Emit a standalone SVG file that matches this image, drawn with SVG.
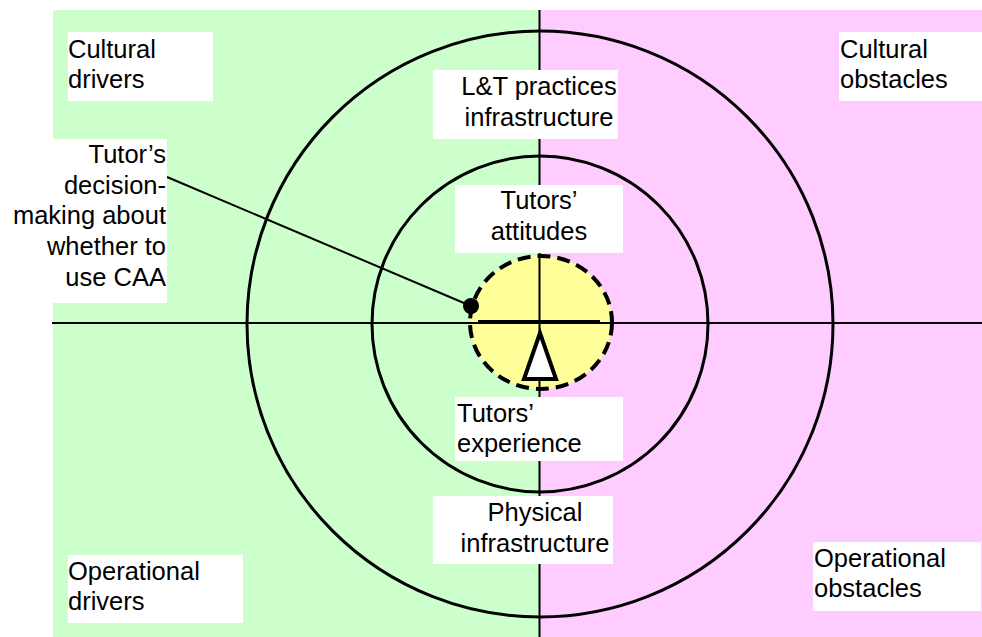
<svg xmlns="http://www.w3.org/2000/svg" width="982" height="637" viewBox="0 0 982 637">
<style>
.lbl{font-family:"Liberation Sans",Arial,sans-serif;font-size:25.5px;fill:#000}
.box{fill:#fff;stroke:none}
.ring{fill:none;stroke:#000;stroke-width:3}
.axis{stroke:#000;stroke-width:2}
</style>
<g id="background">
<rect x="53" y="10" width="487" height="627" fill="#CCFFCC"/>
<rect x="540" y="10" width="442" height="627" fill="#FFCCFF"/>
</g>
<g id="rings">
<circle id="outer" class="ring" cx="540" cy="324" r="293"/>
<circle id="middle" class="ring" cx="540" cy="324" r="168"/>
<ellipse id="core" cx="541" cy="322.5" rx="71" ry="66.5" fill="#FFFF99" stroke="#000" stroke-width="4" stroke-dasharray="13 7"/>
</g>
<g id="connectors">
<line class="axis" x1="52" y1="323" x2="982" y2="323"/>
<line class="axis" x1="539.5" y1="10" x2="539.5" y2="637"/>
<line x1="167" y1="177" x2="471" y2="306" stroke="#000" stroke-width="2"/>
</g>
<g id="balance">
<line x1="478" y1="322" x2="600" y2="322" stroke="#000" stroke-width="4"/>
<polygon points="540,333 524,379 556,379" fill="#fff" stroke="#000" stroke-width="4" stroke-linejoin="miter"/>
<circle cx="471" cy="306" r="8" fill="#000"/>
</g>
<g id="cultural-drivers">
<rect class="box" x="68" y="32" width="145" height="69"/>
<text class="lbl" x="68" y="58">Cultural</text>
<text class="lbl" x="68" y="88">drivers</text>
</g>
<g id="cultural-obstacles">
<rect class="box" x="839" y="32" width="143" height="69"/>
<text class="lbl" x="840" y="58">Cultural</text>
<text class="lbl" x="840" y="88">obstacles</text>
</g>
<g id="operational-drivers">
<rect class="box" x="68" y="555" width="175" height="68"/>
<text class="lbl" x="68" y="580">Operational</text>
<text class="lbl" x="68" y="610">drivers</text>
</g>
<g id="operational-obstacles">
<rect class="box" x="813" y="542" width="168" height="69"/>
<text class="lbl" x="814" y="567">Operational</text>
<text class="lbl" x="814" y="597">obstacles</text>
</g>
<g id="decision">
<rect class="box" x="0" y="139" width="167" height="164"/>
<g text-anchor="end">
<text class="lbl" x="166" y="163">Tutor’s</text>
<text class="lbl" x="166" y="194">decision-</text>
<text class="lbl" x="166" y="224">making about</text>
<text class="lbl" x="166" y="255">whether to</text>
<text class="lbl" x="166" y="286">use CAA</text>
</g>
</g>
<g id="lt-practices">
<rect class="box" x="433" y="70" width="185" height="69"/>
<g text-anchor="middle">
<text class="lbl" x="539" y="95">L&amp;T practices</text>
<text class="lbl" x="539" y="126">infrastructure</text>
</g>
</g>
<g id="attitudes">
<rect class="box" x="455" y="185" width="168" height="68"/>
<g text-anchor="middle">
<text class="lbl" x="539" y="209">Tutors’</text>
<text class="lbl" x="539" y="240">attitudes</text>
</g>
</g>
<g id="experience">
<rect class="box" x="455" y="397" width="168" height="64"/>
<text class="lbl" x="457" y="422">Tutors’</text>
<text class="lbl" x="457" y="452">experience</text>
</g>
<g id="physical">
<rect class="box" x="433" y="496" width="180" height="68"/>
<g text-anchor="middle">
<text class="lbl" x="535" y="521">Physical</text>
<text class="lbl" x="535" y="552">infrastructure</text>
</g>
</g>
</svg>
